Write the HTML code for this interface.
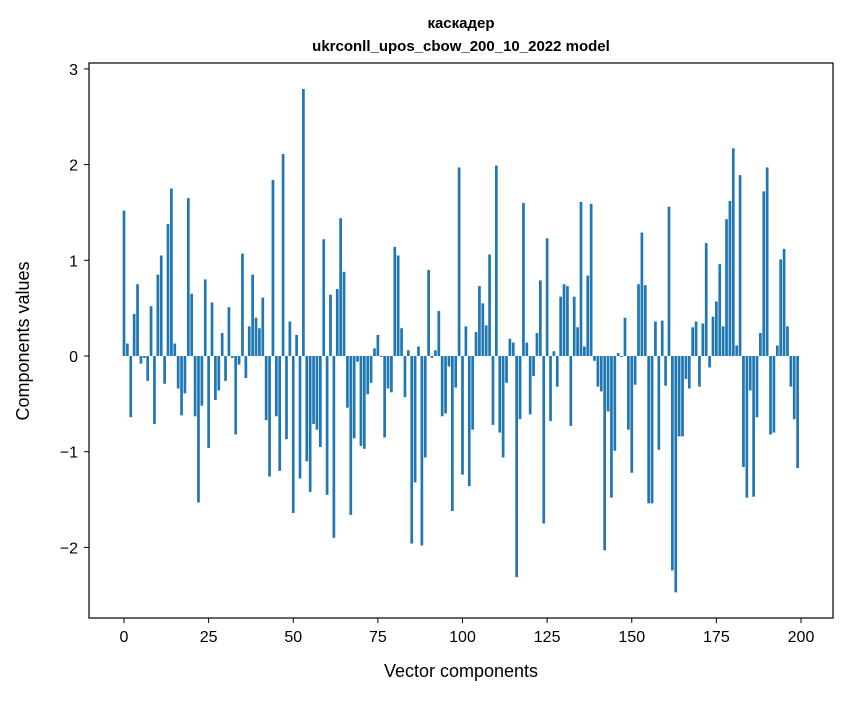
<!DOCTYPE html>
<html><head><meta charset="utf-8"><style>
body{margin:0;background:#fff;}
svg text{font-family:"Liberation Sans","DejaVu Sans",sans-serif;}
</style></head><body>
<svg width="847" height="696" xmlns="http://www.w3.org/2000/svg">
<rect width="847" height="696" fill="#fff"/>
<text x="461" y="28" text-anchor="middle" font-size="15" font-weight="bold">каскадер</text>
<text x="461" y="51" text-anchor="middle" font-size="15" font-weight="bold">ukrconll_upos_cbow_200_10_2022 model</text>
<g id="bars"></g>
<g id="xticks"></g>
<g id="yticks"></g>
<rect x="89" y="63" width="744" height="555" fill="none" stroke="#000" stroke-width="1.2"/>
<text x="461" y="677" text-anchor="middle" font-size="18">Vector components</text>
<text transform="translate(29,341) rotate(-90)" text-anchor="middle" font-size="18">Components values</text>
</svg>
<script>
const values=[1.52,0.13,-0.64,0.44,0.75,-0.08,-0.02,-0.26,0.52,-0.71,
0.85,1.05,-0.29,1.38,1.75,0.13,-0.34,-0.62,-0.39,1.65,
0.65,-0.63,-1.53,-0.52,0.80,-0.96,0.56,-0.46,-0.36,0.24,
-0.26,0.51,-0.02,-0.82,-0.09,1.07,-0.23,0.31,0.85,0.40,
0.29,0.61,-0.67,-1.26,1.84,-0.63,-1.20,2.11,-0.87,0.36,
-1.64,0.22,-1.28,2.79,-1.10,-1.42,-0.71,-0.77,-0.95,1.22,
-1.45,0.64,-1.90,0.70,1.44,0.88,-0.54,-1.66,-0.86,-0.06,
-0.94,-0.97,-0.40,-0.28,0.08,0.22,-0.01,-0.85,-0.34,-0.38,
1.14,1.05,0.29,-0.43,0.06,-1.96,-1.32,0.10,-1.98,-1.06,
0.90,-0.02,0.06,0.47,-0.63,-0.60,-0.11,-1.62,-0.33,1.97,
-1.24,0.31,-1.36,-0.77,0.25,0.73,0.55,0.32,1.06,-0.72,
1.99,-0.80,-1.06,-0.28,0.18,0.14,-2.31,-0.66,1.60,0.14,
-0.61,-0.21,0.24,0.79,-1.75,1.23,-0.68,0.05,-0.32,0.62,
0.75,0.73,-0.73,0.62,0.30,1.61,0.10,0.84,1.59,-0.05,
-0.32,-0.37,-2.03,-0.58,-1.48,-0.99,0.03,-0.01,0.40,-0.77,
-1.22,-0.30,0.75,1.29,0.74,-1.54,-1.54,0.36,-0.98,0.37,
-0.31,1.56,-2.24,-2.47,-0.84,-0.84,-0.24,-0.34,0.30,0.36,
-0.32,0.34,1.18,-0.12,0.41,0.57,0.96,0.31,1.43,1.62,
2.17,0.11,1.89,-1.16,-1.48,-0.36,-1.47,-0.64,0.24,1.72,
1.97,-0.82,-0.80,0.11,1.01,1.12,0.31,-0.32,-0.66,-1.17];
const xTicks=[0,25,50,75,100,125,150,175,200];
const yTicks=[-2,-1,0,1,2,3];
const NS="http://www.w3.org/2000/svg";
const xs=v=>124+(v)*(677/200);
const ys=v=>356-v*95.7;
const bw=0.8*677/200;
const gb=document.getElementById('bars');
values.forEach((v,i)=>{
  const r=document.createElementNS(NS,'rect');
  r.setAttribute('x',xs(i)-bw/2);
  r.setAttribute('y',Math.min(ys(v),ys(0)));
  r.setAttribute('width',bw);
  r.setAttribute('height',Math.abs(ys(v)-ys(0)));
  r.setAttribute('fill','#1f77b4');
  
  
  gb.appendChild(r);
});
const gx=document.getElementById('xticks');
xTicks.forEach(t=>{
  const l=document.createElementNS(NS,'line');
  l.setAttribute('x1',xs(t));l.setAttribute('x2',xs(t));
  l.setAttribute('y1',618);l.setAttribute('y2',623);
  l.setAttribute('stroke','#000');
  
  
  gx.appendChild(l);
  const tx=document.createElementNS(NS,'text');
  tx.setAttribute('x',xs(t));tx.setAttribute('y',642);
  tx.setAttribute('text-anchor','middle');tx.setAttribute('font-size','16');
  tx.textContent=t;
  
  
  gx.appendChild(tx);
});
const gy=document.getElementById('yticks');
yTicks.forEach(t=>{
  const l=document.createElementNS(NS,'line');
  l.setAttribute('x1',84);l.setAttribute('x2',89);
  l.setAttribute('y1',ys(t));l.setAttribute('y2',ys(t));
  l.setAttribute('stroke','#000');
  
  
  gy.appendChild(l);
  const tx=document.createElementNS(NS,'text');
  tx.setAttribute('x',78);tx.setAttribute('y',ys(t)+6);
  tx.setAttribute('text-anchor','end');tx.setAttribute('font-size','16');
  tx.textContent=t<0?'\u2212'+(-t):String(t);
  
  
  gy.appendChild(tx);
});
</script>
</body></html>
